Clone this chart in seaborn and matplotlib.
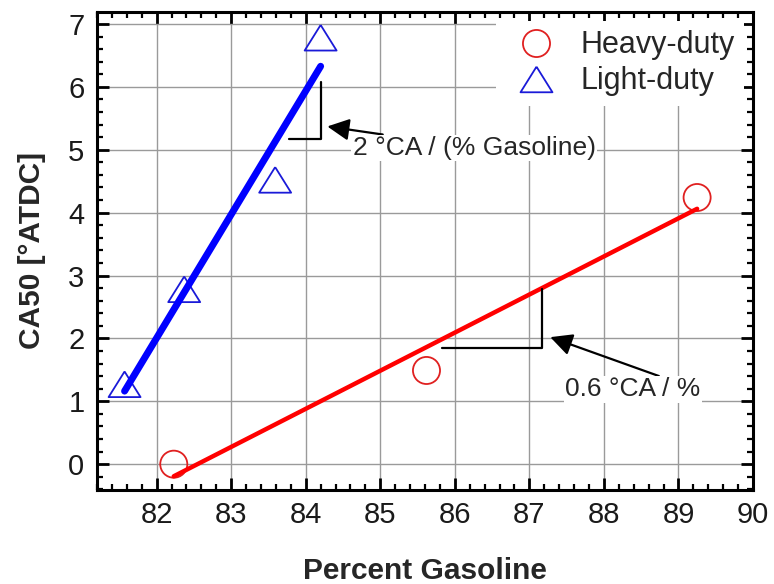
import matplotlib
matplotlib.use("Agg")
import matplotlib.pyplot as plt
from matplotlib.lines import Line2D
from matplotlib.ticker import MultipleLocator
import seaborn as sns

# Heavy-duty engine: percent gasoline vs CA50
heavy_pct = [82.23, 85.62, 89.25]
heavy_ca50 = [0.00, 1.49, 4.24]

# Light-duty engine: percent gasoline vs CA50
light_pct = [81.57, 82.37, 83.59, 84.20]
light_ca50 = [1.27, 2.78, 4.52, 6.78]

series_labels = ["Heavy-duty", "Light-duty"]
x_ticks = [82, 83, 84, 85, 86, 87, 88, 89, 90]
y_ticks = [0, 1, 2, 3, 4, 5, 6, 7]

RED = "#ff0000"
RED_EDGE = "#e02020"
BLUE = "#0000ff"
BLUE_EDGE = "#1a1ad8"

sns.set_theme(style="ticks")
plt.rcParams["font.family"] = ["Liberation Sans", "DejaVu Sans"]

fig = plt.figure(figsize=(7.74, 5.84), dpi=100)
ax = fig.add_axes([0.1253, 0.161, 0.8476, 0.8185])

# flattened open triangle marker
tri = [(0, 0.8), (-1, -0.8), (1, -0.8), (0, 0.8)]

# open markers
sns.scatterplot(x=heavy_pct, y=heavy_ca50, ax=ax, marker="o", s=380,
                facecolor="none", edgecolor=RED_EDGE, linewidth=1.3, zorder=3)
sns.scatterplot(x=light_pct, y=light_ca50, ax=ax, marker=tri, s=23 ** 2,
                facecolor="none", edgecolor=BLUE_EDGE, linewidth=1.3, zorder=3)

# least-squares fit lines
sns.regplot(x=heavy_pct, y=heavy_ca50, ax=ax, scatter=False, ci=None,
            line_kws=dict(color=RED, lw=3.2, solid_capstyle="round", zorder=4))
sns.regplot(x=light_pct, y=light_ca50, ax=ax, scatter=False, ci=None,
            line_kws=dict(color=BLUE, lw=5.0, solid_capstyle="round", zorder=4))

ax.set_xlim(81.2, 90.0)
ax.set_ylim(-0.41, 7.19)
ax.set_xticks(x_ticks)
ax.set_yticks(y_ticks)
ax.xaxis.set_minor_locator(MultipleLocator(0.2))
ax.yaxis.set_minor_locator(MultipleLocator(0.2))

ax.grid(True, which="major", color="#9a9a9a", lw=1.0)
ax.set_axisbelow(True)

for sp in ax.spines.values():
    sp.set_visible(True)
    sp.set_linewidth(2.2)
    sp.set_color("black")

ax.tick_params(which="both", direction="in", top=True, right=True,
               colors="black", labelsize=21)
ax.tick_params(which="major", length=8.5, width=2.0)
ax.tick_params(which="minor", length=4.5, width=1.6)
ax.tick_params(axis="x", which="major", pad=8)
ax.tick_params(axis="y", which="major", pad=9)
for lbl in ax.get_xticklabels() + ax.get_yticklabels():
    lbl.set_color("#1a1a1a")

ax.set_xlabel("Percent Gasoline", fontsize=21.5, fontweight="bold", labelpad=20)
ax.set_ylabel("CA50 [°ATDC]", fontsize=21.5, fontweight="bold", labelpad=16)

# slope brackets
ax.plot([83.77, 84.20, 84.20], [5.17, 5.17, 6.08], color="black", lw=1.6, zorder=5)
ax.plot([85.83, 87.17, 87.17], [1.84, 1.84, 2.78], color="black", lw=1.6, zorder=5)

box = dict(boxstyle="square,pad=0.05", fc="white", ec="none")
ax.annotate("2 °CA / (% Gasoline)", xy=(84.29, 5.37), xytext=(84.63, 5.03),
            fontsize=19, va="center", ha="left", bbox=box, zorder=6,
            arrowprops=dict(arrowstyle="-|>,head_length=0.7,head_width=0.35",
                            color="black", lw=1.6, shrinkA=0, shrinkB=0))
ax.annotate("0.6 °CA / %", xy=(87.28, 2.02), xytext=(87.48, 1.19),
            fontsize=19, va="center", ha="left", bbox=box, zorder=6,
            arrowprops=dict(arrowstyle="-|>,head_length=0.7,head_width=0.35",
                            color="black", lw=1.6, shrinkA=0, shrinkB=0,
                            relpos=(0.72, 1.0)))

handles = [
    Line2D([], [], ls="none", marker="o", ms=19.5, mfc="none",
           mec=RED_EDGE, mew=1.3),
    Line2D([], [], ls="none", marker=tri, ms=23, mfc="none",
           mec=BLUE_EDGE, mew=1.3),
]
leg = ax.legend(handles, series_labels, loc="upper right", fontsize=22,
                frameon=True, fancybox=False, framealpha=1.0,
                facecolor="white", edgecolor="none", borderpad=0.3,
                borderaxespad=0.3, handletextpad=0.45, labelspacing=0.2)
leg.set_zorder(7)

fig.savefig("out.png", dpi=100)
